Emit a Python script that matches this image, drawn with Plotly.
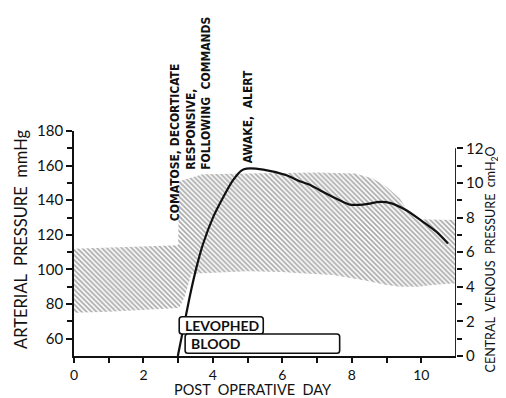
import plotly.graph_objects as go

# ---------------- data ----------------
# Arterial pressure band (mmHg) - upper and lower edges
band_upper_day = [0, 1, 2, 3.0, 3.03, 3.7, 5, 6, 7, 8.1, 8.6, 9.0, 9.38, 9.67, 9.85, 11]
band_upper_mmhg = [112, 112.6, 113.3, 114, 151, 155, 155.5, 155.8, 156, 155.5, 152.6, 147.8, 141, 132.4, 129, 128.6]
band_lower_day = [0, 1, 2, 3.0, 3.05, 3.2, 3.38, 4, 5, 6, 6.5, 7.45, 8, 8.42, 9, 9.38, 9.9, 10.33, 11]
band_lower_mmhg = [75, 75.6, 76.6, 77.8, 78.5, 85, 97.5, 98, 99, 98.5, 97.8, 96.8, 95, 93.5, 91, 90, 90, 91, 92]

# Central venous pressure curve (cmH2O)
cvp_day = [2.99, 3.19, 3.34, 3.53, 3.72, 4.01, 4.30, 4.58, 4.83, 4.97, 5.45, 6.12, 6.5,
           6.79, 7.08, 7.65, 7.94, 8.33, 8.81, 9.09, 9.57, 10.05, 10.44, 10.77]
cvp_value = [0, 2.0, 3.5, 5.15, 6.5, 8.04, 9.19, 10.16, 10.73, 10.83, 10.77, 10.44, 10.1,
             9.9, 9.58, 9.0, 8.75, 8.75, 8.9, 8.85, 8.42, 7.75, 7.17, 6.5]

# Treatments
treatments = ["LEVOPHED", "BLOOD"]
treat_start = [3.03, 3.2]
treat_end = [5.45, 7.65]

# Clinical status notes
notes = ["COMATOSE, DECORTICATE", "RESPONSIVE,<br>FOLLOWING  COMMANDS", "AWAKE,  ALERT"]
note_day = [2.91, 3.58, 5.0]

x_ticks = [0, 2, 4, 6, 8, 10]
left_ticks = [60, 80, 100, 120, 140, 160, 180]
right_ticks = [0, 2, 4, 6, 8, 10, 12]

# ---------------- figure ----------------
LBL = "Lato, 'Open Sans', sans-serif"
NOTE = "'Liberation Sans Narrow', 'DejaVu Sans Condensed', 'Liberation Sans', sans-serif"
BLACK = "#111111"

fig = go.Figure()

band_x = band_upper_day + band_lower_day[::-1]
band_y = band_upper_mmhg + band_lower_mmhg[::-1]
fig.add_trace(go.Scatter(
    x=band_x, y=band_y, mode="lines", fill="toself",
    line=dict(width=0, color="rgba(0,0,0,0)"),
    fillcolor="white",
    fillpattern=dict(shape="\\", size=3.5, solidity=0.5, fgcolor="#555555", bgcolor="white"),
    hoverinfo="skip", showlegend=False, yaxis="y"))

fig.add_trace(go.Scatter(
    x=cvp_day, y=cvp_value, mode="lines", yaxis="y2",
    line=dict(color=BLACK, width=2.2, shape="spline", smoothing=0.6),
    showlegend=False, hoverinfo="skip"))

shapes = []
annotations = []

# treatment boxes (rounded rectangles), rows in mmHg units
rows = [(62.7, 72.7), (51.6, 62.7)]
rx, ry = 0.08, 1.6
for name, s, e, (y0, y1) in zip(treatments, treat_start, treat_end, rows):
    path = (f"M {s+rx},{y0} L {e-rx},{y0} Q {e},{y0} {e},{y0+ry} L {e},{y1-ry} "
            f"Q {e},{y1} {e-rx},{y1} L {s+rx},{y1} Q {s},{y1} {s},{y1-ry} "
            f"L {s},{y0+ry} Q {s},{y0} {s+rx},{y0} Z")
    shapes.append(dict(type="path", path=path, xref="x", yref="y",
                       line=dict(color=BLACK, width=1.6), fillcolor="white", layer="above"))
    annotations.append(dict(x=s + 0.12, y=(y0 + y1) / 2, xref="x", yref="y", text=name,
                            showarrow=False, xanchor="left", yanchor="middle",
                            font=dict(family=LBL, size=14, color=BLACK, weight="bold")))

# right axis line (stops at 12)
shapes.append(dict(type="line", xref="x", yref="y2", x0=11, x1=11, y0=0, y1=12,
                   line=dict(color=BLACK, width=1.8), layer="above"))

# status notes (rotated)
note_bottom = [126.8, 156.3, 160.3]
for t, d, yb in zip(notes, note_day, note_bottom):
    annotations.append(dict(x=d, y=yb, xref="x", yref="y", text=t, textangle=-90,
                            showarrow=False, xanchor="center", yanchor="bottom", align="left",
                            font=dict(family=NOTE, size=12, color=BLACK, weight="bold")))

# axis titles
annotations.append(dict(x=-0.139, y=0.52, xref="paper", yref="paper",
                        xanchor="center", yanchor="middle",
                        text="ARTERIAL  PRESSURE  mmHg", textangle=-90, showarrow=False,
                        font=dict(family=LBL, size=16.5, color=BLACK)))
annotations.append(dict(x=1.092, y=0.43, xref="paper", yref="paper",
                        xanchor="center", yanchor="middle",
                        text="CENTRAL  VENOUS  PRESSURE  cmH<sub>2</sub>O", textangle=-90,
                        showarrow=False, font=dict(family=LBL, size=12.5, color=BLACK)))
annotations.append(dict(x=0.469, y=-0.147, xref="paper", yref="paper",
                        xanchor="center", yanchor="middle",
                        text="POST  OPERATIVE  DAY", showarrow=False,
                        font=dict(family=LBL, size=14.5, color=BLACK)))

# page body has an 8px margin, so the figure is sized to fit inside the window
fig.update_layout(
    width=498, height=390,
    margin=dict(l=66, r=50, t=123, b=42, autoexpand=False),
    paper_bgcolor="white", plot_bgcolor="white",
    showlegend=False,
    shapes=shapes, annotations=annotations,
    xaxis=dict(range=[0, 11], tickvals=x_ticks, ticks="outside", ticklen=5, tickwidth=1.5,
               tickcolor=BLACK, showline=True, linecolor=BLACK, linewidth=1.8,
               showgrid=False, zeroline=False, automargin=False,
               minor=dict(tickvals=[1, 3, 5, 7, 9], ticks="outside", ticklen=5,
                          tickwidth=1.5, tickcolor=BLACK, showgrid=False),
               tickfont=dict(family=LBL, size=14, color=BLACK)),
    yaxis=dict(range=[50, 180], tickvals=left_ticks, ticks="outside", ticklen=6, tickwidth=1.5,
               tickcolor=BLACK, showline=True, linecolor=BLACK, linewidth=1.8,
               showgrid=False, zeroline=False, automargin=False,
               minor=dict(tickvals=[70, 90, 110, 130, 150, 170], ticks="outside", ticklen=5,
                          tickwidth=1.5, tickcolor=BLACK, showgrid=False),
               tickfont=dict(family=LBL, size=15, color=BLACK)),
    yaxis2=dict(range=[0, 13], overlaying="y", side="right", anchor="x",
                tickvals=right_ticks, ticks="outside", ticklen=6, tickwidth=1.5,
                tickcolor=BLACK, showline=False, showgrid=False, zeroline=False,
                automargin=False,
                minor=dict(tickvals=[1, 3, 5, 7, 9, 11], ticks="outside", ticklen=5,
                           tickwidth=1.5, tickcolor=BLACK, showgrid=False),
                tickfont=dict(family=LBL, size=15, color=BLACK)),
)

fig.write_html("out.html")
